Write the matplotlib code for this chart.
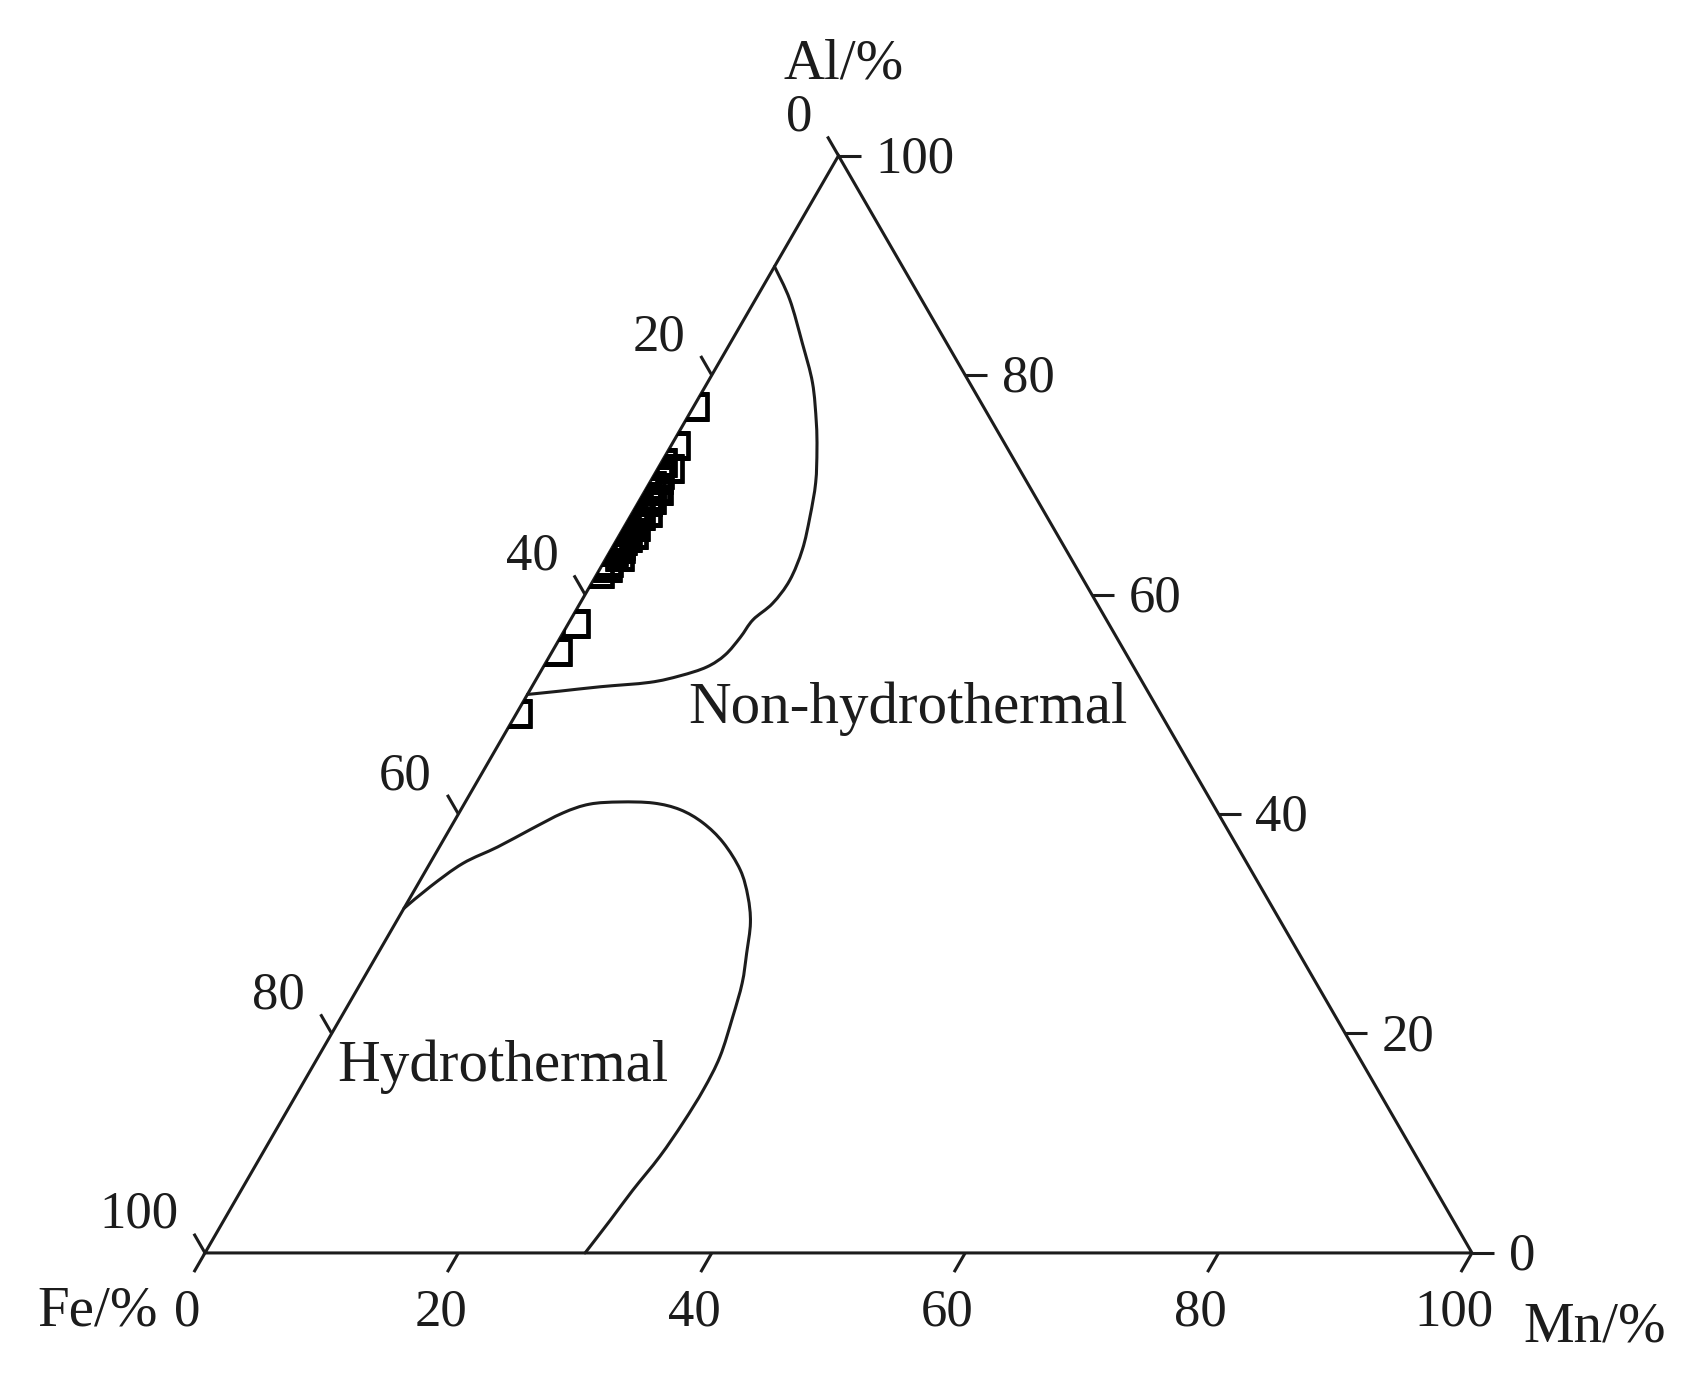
import numpy as np
import matplotlib
matplotlib.use("Agg")
import matplotlib.pyplot as plt
from matplotlib.patches import Polygon, PathPatch
from matplotlib.path import Path

plt.rcParams['font.family'] = ['Liberation Serif', 'DejaVu Serif']

# boundary of the non-hydrothermal field (Mn %, Al %), Fe = 100 - Mn - Al
nonhydro_mn = [0, 2.7, 5.7, 8.3, 10.4, 11.7, 13.1, 14.2, 15.1, 15.5, 15.2, 14.4,
               14.2, 13.8, 12.9, 11.2, 9.1, 5.4, 2.4, 0]
nonhydro_al = [89.9, 86.9, 82.9, 79.3, 75.7, 73.2, 70.2, 67.1, 64.1, 61.3, 59.2, 57.7,
               56.1, 54.5, 53.4, 52.6, 52.0, 51.6, 51.2, 50.9]

# boundary of the hydrothermal field
hydro_mn = [0, 1.1, 2.6, 4.6, 6.4, 8.2, 9.9, 12.2, 14.9, 17.3, 19.7, 22.2, 24.8,
            26.6, 28.0, 29.1, 30.1, 30.9, 31.7, 31.9, 31.8, 31.5, 30.9, 30.5, 30.0]
hydro_al = [31.4, 33.4, 35.5, 37.0, 38.6, 40.1, 40.9, 41.1, 41.0, 40.4, 39.2, 37.4, 34.9,
            32.5, 30.1, 27.3, 24.6, 21.5, 17.9, 14.9, 11.9, 8.8, 5.7, 3.0, 0]

# samples
sample_mn = [0.0, 0.3, 0.0,
             0.9, 0.3, 0.5, 0.2, 1.0, 0.4, 0.6, 0.2, 1.1, 0.3, 0.6, 0.2,
             1.0, 0.4, 0.5, 0.2, 0.9, 0.3, 0.5, 0.1,
             0.7, 0.8, 0.7, 0.8, 0.7, 0.6,
             0.5, 0.3, 0.0]
sample_al = [77.2, 73.6, 72.1,
             71.5, 71.0, 70.5, 70.0, 69.5, 69.0, 68.5, 68.0, 67.5, 67.0, 66.5, 66.0,
             65.5, 65.0, 64.5, 64.0, 63.5, 63.0, 62.5, 62.0,
             69.75, 68.75, 67.25, 66.25, 65.25, 64.25,
             57.4, 54.9, 49.2]

ticks = [0, 20, 40, 60, 80, 100]

S3 = np.sqrt(3) / 2


def to_xy(mn, al):
    mn = np.asarray(mn, float)
    al = np.asarray(al, float)
    return mn + al / 2, al * S3


def smooth_path(x, y):
    # cubic Bezier segments through the read points (Catmull-Rom tangents)
    p = np.column_stack([x, y])
    ext = np.vstack([p[0], p, p[-1]])
    verts = [p[0]]
    codes = [Path.MOVETO]
    for i in range(len(p) - 1):
        p0, p1, p2, p3 = ext[i], ext[i + 1], ext[i + 2], ext[i + 3]
        verts += [p1 + (p2 - p0) / 6, p2 - (p3 - p1) / 6, p2]
        codes += [Path.CURVE4] * 3
    return Path(verts, codes)


fig = plt.figure(figsize=(16.89, 13.97), dpi=100)
ax = fig.add_axes([0, 0, 1, 1])
ax.set_xlim(-16.18, 117.13)
ax.set_ylim(-11.37, 98.89)
ax.axis('off')

ink = '#1c1c1c'
lw = 2.2
fs_tick = 38
fs_lab = 41

tri = Polygon([(0, 0), (100, 0), (50, 100 * S3)], closed=True, fill=False,
              edgecolor=ink, linewidth=lw, joinstyle='miter', zorder=3)
ax.add_patch(tri)

# ticks and labels
L = 1.75
for t in ticks:
    # Mn along the bottom
    x, y = to_xy(t, 0)
    ax.plot([x, x - 0.5 * L], [y, y - S3 * L], color=ink, lw=lw, solid_capstyle='butt')
    ax.text(x - 1.4, y - 4.7, str(t), ha='center', va='center', fontsize=fs_tick, color=ink)
    # Al along the right edge
    x, y = to_xy(100 - t, t)
    ax.plot([x, x + L], [y, y], color=ink, lw=lw, solid_capstyle='butt')
    ax.text(x + 2.9, y - 0.3, str(t), ha='left', va='center', fontsize=fs_tick, color=ink)
    # Fe along the left edge
    x, y = to_xy(0, 100 - t)
    ax.plot([x, x - 0.5 * L], [y, y + S3 * L], color=ink, lw=lw, solid_capstyle='butt')
    ax.text(x - 2.1, y + 3.0, str(t), ha='right', va='center', fontsize=fs_tick, color=ink)

# field boundaries
for mn, al in [(nonhydro_mn, nonhydro_al), (hydro_mn, hydro_al)]:
    x, y = to_xy(mn, al)
    ax.add_patch(PathPatch(smooth_path(x, y), fill=False, edgecolor=ink, lw=lw,
                           capstyle='round', joinstyle='round'))

# samples, clipped to the triangle
x, y = to_xy(sample_mn, sample_al)
pts, = ax.plot(x, y, linestyle='none', marker='s', markersize=18,
               markerfacecolor='none', markeredgecolor='black', markeredgewidth=3.4,
               zorder=4)
clip = Polygon([(0, 0), (100, 0), (50, 100 * S3)], closed=True, transform=ax.transData)
pts.set_clip_path(clip)

ax.text(55.5, 42.95, 'Non-hydrothermal', ha='center', va='center', fontsize=42.5, color=ink)
ax.text(23.5, 14.7, 'Hydrothermal', ha='center', va='center', fontsize=42.5, color=ink)

ax.text(50.4, 93.8, 'Al/%', ha='center', va='center', fontsize=fs_lab, color=ink)
ax.text(-8.5, -4.66, 'Fe/%', ha='center', va='center', fontsize=fs_lab, color=ink)
ax.text(109.7, -5.9, 'Mn/%', ha='center', va='center', fontsize=fs_lab, color=ink)

fig.savefig('out.png', dpi=100, facecolor='white')
